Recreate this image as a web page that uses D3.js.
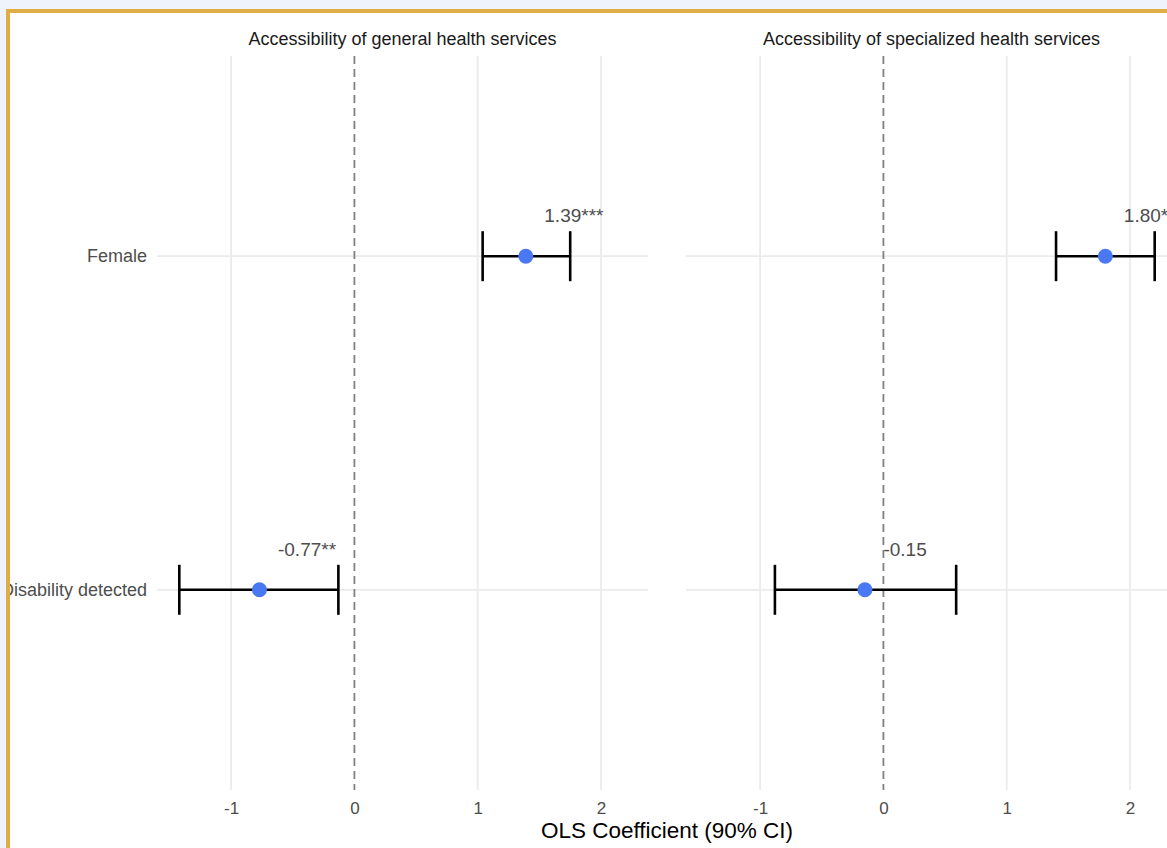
<!DOCTYPE html>
<html>
<head>
<meta charset="utf-8">
<script src="https://cdn.jsdelivr.net/npm/d3@7"></script>
<style>
  html, body { margin: 0; padding: 0; overflow: hidden; background: #eef3fc; }
  .frame { position: absolute; left: 6px; top: 9px; width: 1300px; height: 1000px;
           border: 4px solid #e0ad45; background: #fff; }
  svg { position: absolute; left: 0; top: 0; font-family: "Liberation Sans", Arial, sans-serif; }
</style>
</head>
<body>
<div class="frame"></div>
<div class="chart"></div>
<script>
const panels = ["Accessibility of general health services", "Accessibility of specialized health services"];
const terms = ["Female", "Disability detected"];
// per panel, in the order of terms
const estimates = [[1.39, -0.77], [1.80, -0.15]];
const ciLow = [[1.04, -1.42], [1.40, -0.88]];
const ciHigh = [[1.75, -0.13], [2.20, 0.59]];
const labels = [["1.39***", "-0.77**"], ["1.80***", "-0.15"]];
const xTicks = [-1, 0, 1, 2];

function Charting(){
    const width = 1167, height = 848;

    const svg = d3.select(".chart").append("svg")
    .attr("width", width)
    .attr("height", height);

    const lo = d3.min(ciLow.flat()), hi = d3.max(ciHigh.flat());
    const pad = (hi - lo) * 0.05;

    const panelRanges = [[157, 648], [686, 1177]];
    const top = 56, bottom = 790;

    const yScale = d3.scalePoint()
    .domain(terms)
    .range([top, bottom])
    .padding(0.6);

    panels.forEach((title, p) => {
        const xScale = d3.scaleLinear()
        .domain([lo - pad, hi + pad])
        .range(panelRanges[p]);

        const g = svg.append("g");

        // vertical grid
        g.selectAll(".vgrid")
        .data(xTicks.filter(t => t !== 0))
        .enter()
        .append("line")
        .attr("x1", d => xScale(d))
        .attr("x2", d => xScale(d))
        .attr("y1", top)
        .attr("y2", bottom)
        .attr("stroke", "#ebebeb")
        .attr("stroke-width", 1.8);

        // horizontal grid
        g.selectAll(".hgrid")
        .data(terms)
        .enter()
        .append("line")
        .attr("x1", panelRanges[p][0])
        .attr("x2", panelRanges[p][1])
        .attr("y1", d => yScale(d))
        .attr("y2", d => yScale(d))
        .attr("stroke", "#ebebeb")
        .attr("stroke-width", 1.8);

        // zero line
        g.append("line")
        .attr("x1", xScale(0))
        .attr("x2", xScale(0))
        .attr("y1", top)
        .attr("y2", bottom)
        .attr("stroke", "#808080")
        .attr("stroke-width", 1.8)
        .attr("stroke-dasharray", "8,5");

        // x axis
        const xAxis = d3.axisBottom(xScale)
        .tickValues(xTicks)
        .tickFormat(d => String(d))
        .tickSize(0)
        .tickPadding(12);

        const ax = g.append("g")
        .attr("transform", `translate(0, ${bottom})`)
        .call(xAxis);
        ax.select(".domain").remove();
        ax.selectAll("text")
        .attr("fill", "#4d4d4d")
        .style("font-size", "17px");

        // facet title
        g.append("text")
        .attr("x", (panelRanges[p][0] + panelRanges[p][1]) / 2)
        .attr("y", 45)
        .attr("text-anchor", "middle")
        .attr("fill", "#1a1a1a")
        .style("font-size", "18px")
        .text(title);

        const rows = terms.map((t, i) => ({
            term: t, est: estimates[p][i], low: ciLow[p][i], high: ciHigh[p][i], label: labels[p][i]
        }));

        // error bars
        const eb = g.selectAll(".eb")
        .data(rows)
        .enter()
        .append("g");

        eb.append("line")
        .attr("x1", d => xScale(d.low))
        .attr("x2", d => xScale(d.high))
        .attr("y1", d => yScale(d.term))
        .attr("y2", d => yScale(d.term))
        .attr("stroke", "black")
        .attr("stroke-width", 2.6);

        eb.selectAll(".cap")
        .data(d => [d.low, d.high].map(v => ({v, term: d.term})))
        .enter()
        .append("line")
        .attr("x1", d => xScale(d.v))
        .attr("x2", d => xScale(d.v))
        .attr("y1", d => yScale(d.term) - 25)
        .attr("y2", d => yScale(d.term) + 25)
        .attr("stroke", "black")
        .attr("stroke-width", 2.6);

        eb.append("circle")
        .attr("cx", d => xScale(d.est))
        .attr("cy", d => yScale(d.term))
        .attr("r", 7.5)
        .attr("fill", "#4a77f2");

        eb.append("text")
        .attr("x", d => xScale(d.est + 0.15))
        .attr("y", d => yScale(d.term) - 34)
        .attr("fill", "#4d4d4d")
        .style("font-size", "19px")
        .text(d => d.label);
    });

    // y labels
    svg.selectAll(".ylab")
    .data(terms)
    .enter()
    .append("text")
    .attr("x", 147)
    .attr("y", d => yScale(d))
    .attr("dy", "0.35em")
    .attr("text-anchor", "end")
    .attr("fill", "#4d4d4d")
    .style("font-size", "18px")
    .text(d => d);

    // axis title
    svg.append("text")
    .attr("x", 667)
    .attr("y", 838)
    .attr("text-anchor", "middle")
    .attr("fill", "black")
    .style("font-size", "22.5px")
    .text("OLS Coefficient (90% CI)");

    // left border overlay (clips y labels like the frame)
    svg.append("rect")
    .attr("x", 0).attr("y", 0).attr("width", 6).attr("height", height)
    .attr("fill", "#eef3fc");
    svg.append("rect")
    .attr("x", 6).attr("y", 9).attr("width", 4).attr("height", height)
    .attr("fill", "#e0ad45");
}

Charting()
</script>
</body>
</html>
